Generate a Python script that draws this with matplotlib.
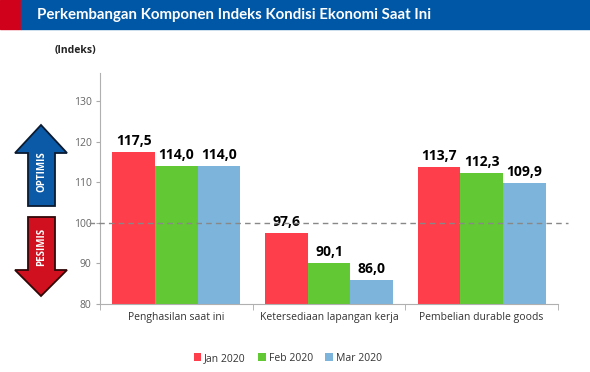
import numpy as np
import matplotlib.pyplot as plt
from matplotlib.patches import Polygon, Rectangle

categories = ["Penghasilan saat ini", "Ketersediaan lapangan kerja", "Pembelian durable goods"]
series = ["Jan 2020", "Feb 2020", "Mar 2020"]
jan = [117.5, 97.6, 113.7]
feb = [114.0, 90.1, 112.3]
mar = [114.0, 86.0, 109.9]
yticks = [80, 90, 100, 110, 120, 130]

colors = ["#ff3e4b", "#62c834", "#7db4dc"]
plt.rcParams['font.family'] = ['Open Sans', 'DejaVu Sans']

fig = plt.figure(figsize=(5.9, 3.72), dpi=100)
ax = fig.add_axes([100/590, 1-304/372, 458/590, 231/372])

x = np.arange(len(categories))
w = 0.28
for i, vals in enumerate([jan, feb, mar]):
    bars = ax.bar(x + (i-1)*w, np.array(vals) - 80, w, bottom=80, color=colors[i], label=series[i])
    for xi, v in zip(x + (i-1)*w, vals):
        ax.text(xi, v + 1.0, ("%.1f" % v).replace(".", ","), ha="center", va="bottom",
                fontsize=10, fontweight="bold", color="black")

ax.set_xlim(-0.5, 2.5)
ax.set_ylim(80, 137)
ax.set_yticks(yticks)
ax.set_xticks(x)
ax.set_xticklabels(categories)
ax.set_xticks([-0.5, 0.5, 1.5, 2.5], minor=True)
ax.tick_params(axis="x", which="major", length=0, pad=6, labelsize=7.5, labelcolor="#333333")
ax.tick_params(axis="x", which="minor", length=4, color="#aaaaaa")
ax.tick_params(axis="y", length=3, color="#aaaaaa", labelsize=7.5, labelcolor="#666666", pad=3)
for s in ["top", "right"]:
    ax.spines[s].set_visible(False)
for s in ["left", "bottom"]:
    ax.spines[s].set_color("#b0b0b0")
    ax.spines[s].set_linewidth(0.8)

ax.plot([-0.025, 1.022], [100, 100], transform=ax.get_yaxis_transform(), clip_on=False,
        color="#888888", lw=1.0, ls=(0, (4, 3)), zorder=5)

leg = ax.legend(loc="upper center", bbox_to_anchor=(0.41, -0.17), ncol=3, frameon=False,
                fontsize=7.5, handlelength=0.7, handleheight=0.7, handletextpad=0.3,
                columnspacing=1.2)
for t in leg.get_texts():
    t.set_color("#333333")

# overlay in pixel coordinates for header and arrows
ov = fig.add_axes([0, 0, 1, 1])
ov.set_xlim(0, 590)
ov.set_ylim(372, 0)
ov.axis("off")
ov.add_patch(Rectangle((0, 0), 21, 29, color="#d0021b"))
ov.add_patch(Rectangle((21, 0), 569, 29, color="#0057a6"))
ov.text(37, 15, "Perkembangan Komponen Indeks Kondisi Ekonomi Saat Ini", color="white",
        fontsize=10.8, fontweight="bold", va="center", ha="left", family=["Lato", "DejaVu Sans"])
ov.text(55, 50, "(Indeks)", fontsize=7.5, fontweight="bold", color="#222222", va="center")

up = [(41, 125), (67, 153), (55, 153), (55, 206), (28, 206), (28, 153), (15, 153)]
down = [(28, 217), (55, 217), (55, 270), (67, 270), (41, 296), (15, 270), (28, 270)]
ov.add_patch(Polygon(up, closed=True, facecolor="#0b5aa8", edgecolor="#0a1a30", lw=1.3))
ov.add_patch(Polygon(down, closed=True, facecolor="#d0101e", edgecolor="#300808", lw=1.3))
ov.text(41.5, 172, "OPTIMIS", rotation=90, color="white", fontsize=7, fontweight="bold",
        ha="center", va="center")
ov.text(41.5, 247, "PESIMIS", rotation=90, color="white", fontsize=7, fontweight="bold",
        ha="center", va="center")

fig.savefig("out.png", dpi=100)
